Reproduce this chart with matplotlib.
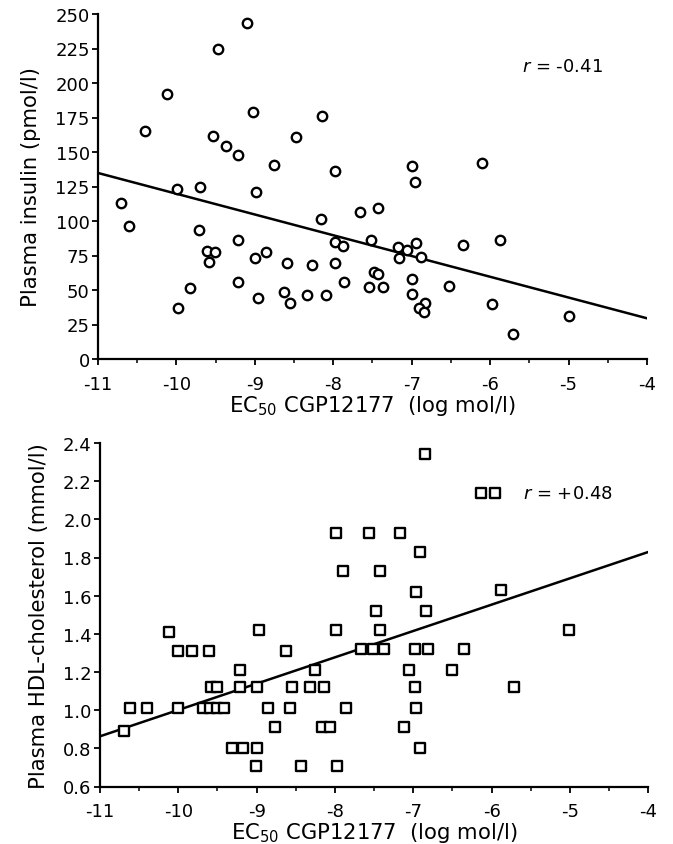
import matplotlib
matplotlib.use("Agg")
import matplotlib.pyplot as plt
from matplotlib.ticker import MultipleLocator

plt.rcParams['font.family'] = ['DejaVu Sans']
plt.rcParams['mathtext.fontset'] = 'dejavusans'
plt.rcParams['axes.unicode_minus'] = False

# ---------------- data: top panel (plasma insulin) ----------------
ins_x = [-10.71, -10.60, -10.40, -10.12, -9.99, -9.98, -9.83, -9.71, -9.70, -9.61,
         -9.58, -9.53, -9.51, -9.47, -9.37, -9.22, -9.22, -9.22, -9.10, -9.03,
         -9.00, -8.98, -8.96, -8.86, -8.76, -8.63, -8.59, -8.55, -8.47, -8.34,
         -8.27, -8.16, -8.15, -8.09, -7.98, -7.98, -7.98, -7.88, -7.86, -7.66,
         -7.52, -7.48, -7.43, -7.43, -7.54, -7.37, -7.18, -7.16, -7.06, -7.00,
         -6.96, -6.94, -6.88, -7.00, -7.00, -6.83, -6.91, -6.84, -6.53, -6.35,
         -6.11, -5.97, -5.88, -5.71, -5.00]
ins_y = [113, 96.6, 165.4, 192, 123.2, 37, 51.2, 93.7, 124.4, 78.5,
         70.5, 161.8, 77.3, 224.6, 154.6, 147.8, 86.5, 55.6, 243.5, 179.2,
         73.2, 121.3, 44.2, 77.3, 140.8, 48.8, 69.6, 40.6, 160.6, 46.4,
         68.1, 101.4, 176.3, 46.4, 136, 84.5, 69.3, 81.6, 56.0, 106.8,
         86.5, 63.3, 61.6, 109.2, 52.0, 52.4, 80.9, 73.0, 79.2, 140.1,
         128.0, 83.8, 74.2, 58.0, 47.1, 40.3, 37.0, 33.8, 53.1, 82.6,
         142.0, 39.9, 86.5, 18.1, 30.9]
ins_fit_x = [-11, -4]
ins_fit_y = [134.8, 29.5]
ins_r = "$r$ = -0.41"

# ---------------- data: bottom panel (HDL-cholesterol) ----------------
hdl_x = [-10.69, -10.62, -10.40, -10.12, -10.00, -9.83, -9.61, -10.00, -9.68, -9.59,
         -9.51, -9.42, -9.58, -9.51, -9.32, -9.17, -9.21, -9.21, -8.99, -8.97,
         -9.00, -9.01, -8.85, -8.76, -8.63, -8.55, -8.57, -8.44, -8.26, -8.32,
         -8.14, -8.16, -8.06, -7.99, -7.97, -7.86, -7.67, -7.52, -7.99, -7.56,
         -7.90, -6.85, -6.13, -5.96, -7.17, -6.91, -7.43, -6.96, -5.88, -7.47,
         -6.84, -7.42, -5.01, -7.37, -6.98, -6.81, -6.35, -7.05, -6.50, -6.98,
         -5.72, -6.96, -7.12, -6.92]
hdl_y = [0.89, 1.01, 1.01, 1.41, 1.31, 1.31, 1.31, 1.01, 1.01, 1.01,
         1.01, 1.01, 1.12, 1.12, 0.80, 0.80, 1.21, 1.12, 1.12, 1.42,
         0.80, 0.71, 1.01, 0.91, 1.31, 1.12, 1.01, 0.71, 1.21, 1.12,
         1.12, 0.91, 0.91, 1.42, 0.71, 1.01, 1.32, 1.32, 1.93, 1.93,
         1.73, 2.34, 2.14, 2.14, 1.93, 1.83, 1.73, 1.62, 1.63, 1.52,
         1.52, 1.42, 1.42, 1.32, 1.32, 1.32, 1.32, 1.21, 1.21, 1.12,
         1.12, 1.01, 0.91, 0.80]
hdl_fit_x = [-11, -4]
hdl_fit_y = [0.863, 1.829]
hdl_r = "$r$ = +0.48"

xlabel = "EC$_{50}$ CGP12177  (log mol/l)"
ins_ylabel = "Plasma insulin (pmol/l)"
hdl_ylabel = "Plasma HDL-cholesterol (mmol/l)"

W, H = 673, 845
fig = plt.figure(figsize=(W / 100, H / 100), dpi=100)

ax1 = fig.add_axes([98 / W, 1 - 360 / H, (647 - 98) / W, (360 - 15) / H])
ax2 = fig.add_axes([100 / W, 1 - 787.5 / H, (648.3 - 100) / W, (787.5 - 444) / H])

FS = 13
LFS = 15.2


def style(ax):
    for s in ('top', 'right'):
        ax.spines[s].set_visible(False)
    for s in ('left', 'bottom'):
        ax.spines[s].set_linewidth(1.6)
    ax.set_xlim(-11, -4)
    ax.xaxis.set_major_locator(MultipleLocator(1))
    ax.xaxis.set_minor_locator(MultipleLocator(0.5))
    ax.tick_params(axis='both', which='major', direction='out', length=4,
                   width=1.3, labelsize=FS, pad=2)
    ax.tick_params(axis='x', which='major', pad=7.5)
    ax.tick_params(axis='x', which='minor', direction='out', length=3, width=1.1)
    ax.set_xlabel(xlabel, fontsize=LFS, labelpad=0)


# top panel
ax1.scatter(ins_x, ins_y, s=46, marker='o', facecolors='white',
            edgecolors='black', linewidths=1.7, zorder=3, clip_on=False)
ax1.plot(ins_fit_x, ins_fit_y, color='black', lw=1.8, zorder=2)
style(ax1)
ax1.set_ylim(0, 250)
ax1.yaxis.set_major_locator(MultipleLocator(25))
ax1.set_ylabel(ins_ylabel, fontsize=LFS, labelpad=10)
ax1.text(-5.6, 212.5, ins_r, fontsize=FS, va='center', ha='left')

# bottom panel
ax2.scatter(hdl_x, hdl_y, s=42, marker='s', facecolors='white',
            edgecolors='black', linewidths=1.7, zorder=3, clip_on=False)
ax2.plot(hdl_fit_x, hdl_fit_y, color='black', lw=1.8, zorder=2)
style(ax2)
ax2.set_ylim(0.6, 2.4)
ax2.yaxis.set_major_locator(MultipleLocator(0.2))
ax2.yaxis.set_major_formatter(plt.FuncFormatter(lambda v, p: f"{v:.1f}"))
ax2.set_ylabel(hdl_ylabel, fontsize=LFS, labelpad=10)
ax2.text(-5.6, 2.14, hdl_r, fontsize=FS, va='center', ha='left')

fig.savefig("out.png", dpi=100)
